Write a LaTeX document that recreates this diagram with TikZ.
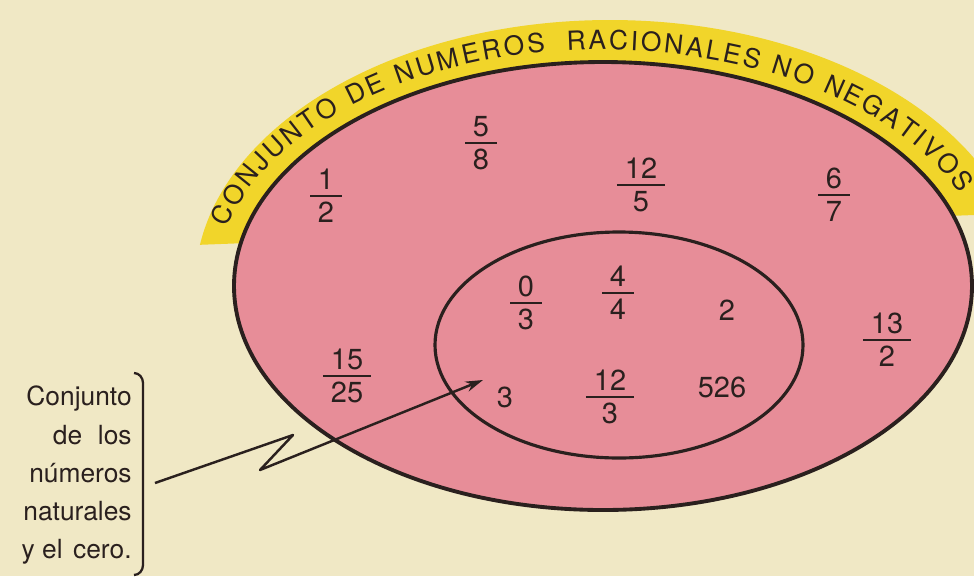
\documentclass[tikz,border=0pt]{standalone}
\usepackage{fontspec}
\setmainfont{TeX Gyre Heros}
\usetikzlibrary{decorations.text,arrows.meta}
\definecolor{bg}{RGB}{240,232,197}
\definecolor{pinkfill}{RGB}{231,141,152}
\definecolor{band}{RGB}{241,213,42}
\definecolor{ink}{RGB}{42,32,30}
\newcommand{\fr}[2]{{\renewcommand{\arraystretch}{0}\setlength{\arrayrulewidth}{1.1pt}%
\begin{tabular}{@{\hspace{4.5pt}}c@{\hspace{4.5pt}}}\rule[-3pt]{0pt}{12pt}#1\\\hline\rule{0pt}{14.5pt}#2\end{tabular}}}
\tikzset{
  num/.style={inner sep=0pt, text=ink, font=\fontsize{16.5}{19}\selectfont},
  lbl/.style={inner sep=0pt, anchor=base east, text=ink, font=\fontsize{15}{18}\selectfont},
  setline/.style={draw=ink, line width=2.2pt},
  innerline/.style={draw=ink, line width=1.8pt},
  titletext/.style={decorate, decoration={text along path, text align=fit to path,
    text={|\fontsize{15}{15}\selectfont\color{ink}|#1}}},
}
\begin{document}
\begin{tikzpicture}[x=0.02cm,y=-0.02cm]
\useasboundingbox (0,0) rectangle (974,576);
\fill[bg] (0,0) rectangle (974,576);
% yellow band
\begin{scope}
\clip (0,0) -- (974,0) -- (974,215) -- (195,245) -- cycle;
\fill[band] (610,286) ellipse [x radius=415, y radius=266];
\end{scope}
% outer set
\path[fill=pinkfill, setline] (603,286) ellipse [x radius=369, y radius=224];
% title along the band
\path[titletext={CONJUNTO DE NUMEROS}]
  (226.9,228.1) arc[start angle=194, end angle=261.4, x radius=388, y radius=236];
\path[titletext={RACIONALES NO NEGATIVOS}]
  (567.0,50.9) arc[start angle=264.7, end angle=337, x radius=388, y radius=236];
% inner set
\draw[innerline] (619,345) ellipse [x radius=184, y radius=113];
% numbers of the outer set
\node[num] (n12)  at (326,196) {\fr{1}{2}};
\node[num] (n58)  at (481,143) {\fr{5}{8}};
\node[num] (n125) at (641,185) {\fr{12}{5}};
\node[num] (n67)  at (834,195) {\fr{6}{7}};
\node[num] (n132) at (887,340) {\fr{13}{2}};
\node[num] (n1525) at (347,376) {\fr{15}{25}};
% numbers of the inner set
\node[num] (n03)  at (526,303) {\fr{0}{3}};
\node[num] (n44)  at (618,293) {\fr{4}{4}};
\node[num] (n2)   at (727,310) {2};
\node[num] (n3)   at (505,397) {3};
\node[num] (n123) at (610,397) {\fr{12}{3}};
\node[num] (n526) at (722,387) {526};
% label
\node[lbl] (l1) at (132,405) {Conjunto};
\node[lbl] (l2) at (132,444) {de\hspace{0.6em}los};
\node[lbl] (l3) at (132,482) {números};
\node[lbl] (l4) at (132,520) {naturales};
\node[lbl] (l5) at (132,558) {y el\hspace{0.4em}cero.};
% bracket
\draw[ink, line width=1.3pt] (134,373) to[out=0,in=90] (143,383) -- (143,565) to[out=-90,in=0] (134,575);
% arrow
\coordinate (a0) at (155,483);
\coordinate (z1) at (293,435);
\coordinate (z2) at (260,470);
\coordinate (a1) at (483,380);
\draw[ink, line width=1.4pt, line join=round, -{Stealth[length=10pt,width=6pt]}] (a0) -- (z1) -- (z2) -- (a1);
\end{tikzpicture}
\end{document}
